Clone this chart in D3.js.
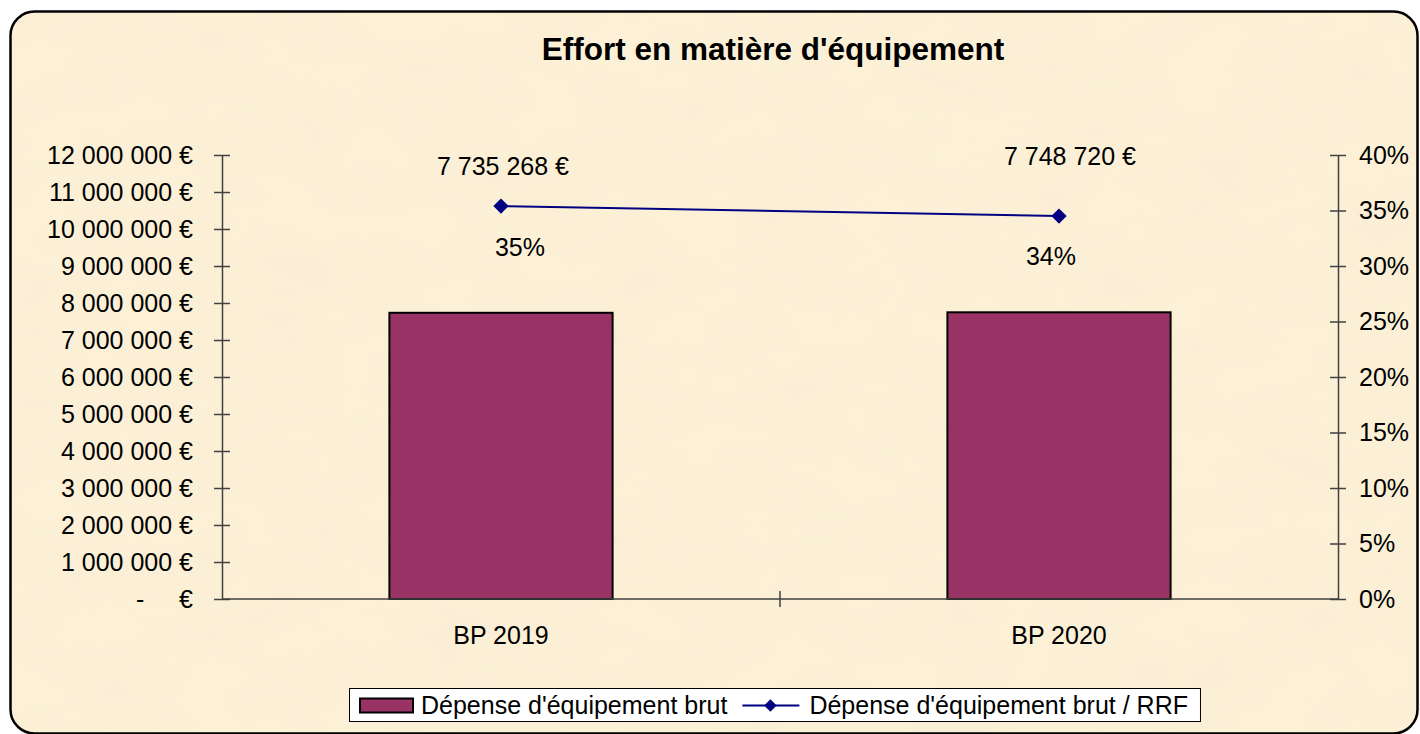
<!DOCTYPE html>
<html>
<head>
<meta charset="utf-8">
<script src="https://cdn.jsdelivr.net/npm/d3@7"></script>
<style>
  body { margin: 0; background: #fff; }
  svg text { font-family: "Liberation Sans", Arial, sans-serif; fill: #000; }
</style>
</head>
<body>
<svg id="chart" width="1420" height="734"></svg>
<script>
// --- data ---
const categories = ["BP 2019", "BP 2020"];
const depenseBrut = [7735268, 7748720];          // bars, left axis (€)
const ratioRRF = [0.354, 0.345];                 // line, right axis (%)
const ratioLabels = ["35%", "34%"];
const euroTicks = d3.range(0, 12000001, 1000000);
const pctTicks = [0, 0.05, 0.10, 0.15, 0.20, 0.25, 0.30, 0.35, 0.40];
const title = "Effort en matière d'équipement";
const seriesNames = ["Dépense d'équipement brut", "Dépense d'équipement brut / RRF"];

// label nudges (the labels were dragged by hand in the original chart)
const valueLabelNudge = [[2, -40], [11, -60]];
const pctLabelNudge = [[19, 41], [-8, 40]];

const W = 1420, H = 734;
const plot = { left: 222, right: 1338, top: 155, bottom: 599 };
const barColor = "#993366", lineColor = "#000080", axisColor = "#404040";
const fontSize = 25;

const svg = d3.select("#chart");

// parchment-like background inside a rounded frame
const defs = svg.append("defs");
const filt = defs.append("filter").attr("id", "paper").attr("x", 0).attr("y", 0)
    .attr("width", 1).attr("height", 1);
filt.append("feTurbulence").attr("type", "fractalNoise")
    .attr("baseFrequency", "0.012 0.02").attr("numOctaves", 4).attr("seed", 3).attr("result", "noise");
filt.append("feColorMatrix").attr("in", "noise").attr("type", "matrix")
    .attr("values", "0 0 0 0 0.93  0 0 0 0 0.84  0 0 0 0 0.66  0 0 0 -0.9 0.55")
    .attr("result", "spots");
filt.append("feComposite").attr("in", "spots").attr("in2", "SourceGraphic").attr("operator", "in")
    .attr("result", "clip");
filt.append("feMerge").call(m => {
    m.append("feMergeNode").attr("in", "SourceGraphic");
    m.append("feMergeNode").attr("in", "clip");
});

svg.append("rect")
    .attr("x", 10.5).attr("y", 11.5).attr("width", 1407).attr("height", 722)
    .attr("rx", 24).attr("ry", 24)
    .attr("fill", "#fcf1d7")
    .attr("filter", "url(#paper)");
svg.append("rect")
    .attr("x", 10.5).attr("y", 11.5).attr("width", 1407).attr("height", 722)
    .attr("rx", 24).attr("ry", 24)
    .attr("fill", "none").attr("stroke", "#000").attr("stroke-width", 2.5);

// title
svg.append("text")
    .attr("x", 773).attr("y", 60)
    .attr("text-anchor", "middle")
    .attr("font-size", 31.5).attr("font-weight", "bold")
    .text(title);

// scales
const x = d3.scaleBand().domain(categories).range([plot.left, plot.right]).paddingInner(0).paddingOuter(0);
const yEuro = d3.scaleLinear().domain([0, 12000000]).range([plot.bottom, plot.top]);
const yPct = d3.scaleLinear().domain([0, 0.40]).range([plot.bottom, plot.top]);

const fmtNum = v => d3.format(",")(v).replace(/,/g, " ");
const fmtEuro = v => v === 0 ? "-\u00a0\u00a0\u00a0\u00a0\u00a0€" : fmtNum(v) + " €";

// bars
const barW = x.bandwidth() * 0.4;
svg.append("g").selectAll("rect")
    .data(categories)
    .join("rect")
    .attr("x", (d) => x(d) + x.bandwidth() / 2 - barW / 2)
    .attr("y", (d, i) => yEuro(depenseBrut[i]))
    .attr("width", barW)
    .attr("height", (d, i) => plot.bottom - yEuro(depenseBrut[i]))
    .attr("fill", barColor)
    .attr("stroke", "#000").attr("stroke-width", 2);

// axes
function styleAxis(g) {
    g.selectAll("path, line").attr("stroke", axisColor).attr("stroke-width", 1.5);
    g.selectAll("text").attr("font-size", fontSize).attr("fill", "#000")
        .attr("font-family", "'Liberation Sans', Arial, sans-serif");
}

const leftAxis = svg.append("g")
    .attr("transform", `translate(${plot.left},0)`)
    .call(d3.axisLeft(yEuro).tickValues(euroTicks).tickFormat(fmtEuro).tickSize(8).tickSizeOuter(0).tickPadding(21));
leftAxis.selectAll(".tick line").attr("x2", 8).attr("x1", -8);
styleAxis(leftAxis);

const rightAxis = svg.append("g")
    .attr("transform", `translate(${plot.right},0)`)
    .call(d3.axisRight(yPct).tickValues(pctTicks).tickFormat(d3.format(".0%")).tickSize(8).tickSizeOuter(0).tickPadding(13));
rightAxis.selectAll(".tick line").attr("x1", -8).attr("x2", 8);
styleAxis(rightAxis);

// x axis: baseline + crossing ticks at category boundaries, labels at centres
const xAxis = svg.append("g").attr("transform", `translate(0,${plot.bottom})`);
xAxis.append("line").attr("x1", plot.left).attr("x2", plot.right).attr("y1", 0).attr("y2", 0);
xAxis.selectAll(".bound")
    .data(categories.slice(1))
    .join("line")
    .attr("class", "bound")
    .attr("x1", d => x(d)).attr("x2", d => x(d))
    .attr("y1", -8).attr("y2", 8);
xAxis.selectAll("text")
    .data(categories)
    .join("text")
    .attr("x", d => x(d) + x.bandwidth() / 2)
    .attr("y", 45)
    .attr("text-anchor", "middle")
    .text(d => d);
styleAxis(xAxis);

// line series
const pts = categories.map((c, i) => [x(c) + x.bandwidth() / 2, yPct(ratioRRF[i])]);
svg.append("path")
    .attr("d", d3.line()(pts))
    .attr("fill", "none").attr("stroke", lineColor).attr("stroke-width", 2);
const diamond = d3.symbol().type(d3.symbolDiamond2).size(150);
svg.append("g").selectAll("path")
    .data(pts)
    .join("path")
    .attr("transform", d => `translate(${d[0]},${d[1]})`)
    .attr("d", diamond)
    .attr("fill", lineColor);

// data labels
svg.append("g").selectAll("text")
    .data(pts)
    .join("text")
    .attr("x", (d, i) => d[0] + valueLabelNudge[i][0])
    .attr("y", (d, i) => d[1] + valueLabelNudge[i][1])
    .attr("dy", "0.35em")
    .attr("text-anchor", "middle")
    .attr("font-size", fontSize)
    .text((d, i) => fmtNum(depenseBrut[i]) + " €");
svg.append("g").selectAll("text")
    .data(pts)
    .join("text")
    .attr("x", (d, i) => d[0] + pctLabelNudge[i][0])
    .attr("y", (d, i) => d[1] + pctLabelNudge[i][1])
    .attr("dy", "0.35em")
    .attr("text-anchor", "middle")
    .attr("font-size", fontSize)
    .text((d, i) => ratioLabels[i]);

// legend
const lg = svg.append("g");
const lx = 349, ly = 688, lh = 33;
const box = lg.append("rect").attr("x", lx + 0.5).attr("y", ly + 0.5).attr("height", lh)
    .attr("fill", "#fff").attr("stroke", "#000").attr("stroke-width", 1);
let cx = lx + 11;
const cy = ly + lh / 2 + 1;
lg.append("rect").attr("x", cx).attr("y", cy - 7).attr("width", 53).attr("height", 14)
    .attr("fill", barColor).attr("stroke", "#000").attr("stroke-width", 2);
cx += 53 + 8;
const t1 = lg.append("text").attr("x", cx).attr("y", cy).attr("dy", "0.35em")
    .attr("font-size", fontSize).text(seriesNames[0]);
cx += t1.node().getComputedTextLength() + 15;
lg.append("line").attr("x1", cx).attr("x2", cx + 57).attr("y1", cy).attr("y2", cy)
    .attr("stroke", lineColor).attr("stroke-width", 2);
lg.append("path").attr("transform", `translate(${cx + 28},${cy})`)
    .attr("d", d3.symbol().type(d3.symbolDiamond2).size(100)).attr("fill", lineColor);
cx += 57 + 10;
const t2 = lg.append("text").attr("x", cx).attr("y", cy).attr("dy", "0.35em")
    .attr("font-size", fontSize).text(seriesNames[1]);
cx += t2.node().getComputedTextLength() + 12;
box.attr("width", cx - lx);
</script>
</body>
</html>
